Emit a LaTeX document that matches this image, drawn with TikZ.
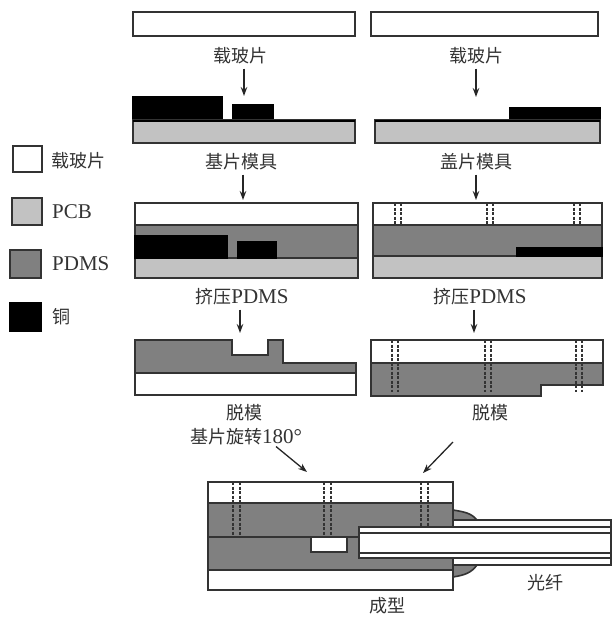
\documentclass[tikz,border=0pt]{standalone}
\usepackage{fontspec}
\setmainfont{Liberation Serif}
\newfontfamily\cjk{Noto Sans CJK SC}
\newcommand\zh[1]{{\cjk\fontsize{18}{20}\selectfont #1}}
\usetikzlibrary{arrows.meta,positioning}
\definecolor{edgegray}{HTML}{333333}
\definecolor{pcbgray}{HTML}{C2C2C2}
\definecolor{pdmsgray}{HTML}{808080}

\begin{document}
\begin{tikzpicture}[
    x=1pt,y=-1pt,
    node distance=0pt,
    lay/.style={rectangle,draw=edgegray,line width=1.6pt,inner sep=0pt,outer sep=0pt,anchor=north west},
    glass/.style={lay,fill=white},
    pcb/.style={lay,fill=pcbgray},
    pdms/.style={lay,fill=pdmsgray},
    copper/.style={lay,draw=black,fill=black},
    lab/.style={text=edgegray,font=\fontsize{21}{24}\selectfont,inner sep=1pt},
    arr/.style={-{Stealth[length=9pt,width=6.5pt]},line width=1.3pt,black!85},
    via/.style={edgegray,line width=1.5pt,dash pattern=on 3pt off 1.5pt},
    fibre/.style={draw=edgegray,line width=1.6pt}
  ]
    \useasboundingbox (0,0) rectangle (612,619);

    \node[glass,minimum width=29pt,minimum height=26pt] (k1) at (13,146) {};
    \node[pcb,minimum width=30pt,minimum height=27pt] (k2) at (12,198) {};
    \node[pdms,minimum width=31pt,minimum height=28pt] (k3) at (10,250) {};
    \node[copper,minimum width=31pt,minimum height=28pt] (k4) at (10,303) {};
    \node[lab,anchor=west] at (50,161) {\zh{载玻片}};
    \node[lab,anchor=west] at (51,212) {PCB};
    \node[lab,anchor=west] at (51,264) {PDMS};
    \node[lab,anchor=west] at (51,317) {\zh{铜}};

    \node[glass,minimum width=222pt,minimum height=24pt] (a1) at (133,12) {};
    \node[glass,minimum width=227pt,minimum height=24pt] (a2) at (371,12) {};
    \node[lab] (la1) at (240,56) {\zh{载玻片}};
    \node[lab] (la2) at (476,56) {\zh{载玻片}};

    \node[copper,minimum width=89pt,minimum height=23pt] (b1) at (133,97) {};
    \node[copper,minimum width=40pt,minimum height=15pt] (b2) at (233,105) {};
    \node[pcb,minimum width=222pt,minimum height=23pt] (b3) at (133,120) {};
    \draw[black,line width=2.5pt] ([yshift=-1pt]b3.north west) -- ([yshift=-1pt]b3.north east);
    \node[copper,minimum width=90pt,minimum height=12pt] (b4) at (510,108) {};
    \node[pcb,minimum width=225pt,minimum height=23pt] (b5) at (375,120) {};
    \draw[black,line width=2.5pt] ([yshift=-1pt]b5.north west) -- ([yshift=-1pt]b5.north east);
    \node[lab] (lb1) at (241,162) {\zh{基片模具}};
    \node[lab] (lb2) at (476,162) {\zh{盖片模具}};

    \node[glass,minimum width=223pt,minimum height=22pt] (c1) at (135,203) {};
    \node[pdms,minimum width=223pt,minimum height=33pt,below=of c1.south west,anchor=north west] (c2) {};
    \node[pcb,minimum width=223pt,minimum height=20pt,below=of c2.south west,anchor=north west] (c3) {};
    \node[copper,minimum width=92pt,minimum height=22pt] (c4) at (135,236) {};
    \node[copper,minimum width=38pt,minimum height=16pt] (c5) at (238,242) {};
    \node[lab] (lc1) at (242,297) {\zh{挤压}PDMS};

    \node[glass,minimum width=229pt,minimum height=22pt] (d1) at (373,203) {};
    \node[pdms,minimum width=229pt,minimum height=31pt,below=of d1.south west,anchor=north west] (d2) {};
    \node[pcb,minimum width=229pt,minimum height=22pt,below=of d2.south west,anchor=north west] (d3) {};
    \node[copper,minimum width=85pt,minimum height=8pt] (d4) at (517,248) {};
    \foreach \x in {398,490,577} {
      \draw[via] (\x-3,203) -- (\x-3,225);
      \draw[via] (\x+3,203) -- (\x+3,225);
    }
    \node[lab] (ld1) at (480,297) {\zh{挤压}PDMS};

    \draw[lay,fill=pdmsgray] (135,340) -- (232,340) -- (232,355) -- (268,355) -- (268,340)
      -- (283,340) -- (283,363) -- (356,363) -- (356,373) -- (135,373) -- cycle;
    \node[glass,minimum width=221pt,minimum height=22pt] (e1) at (135,373) {};
    \node[lab] (le1) at (244,413) {\zh{脱模}};
    \node[lab] (le2) at (246,437) {\zh{基片旋转}180°};

    \node[glass,minimum width=232pt,minimum height=23pt] (f1) at (371,340) {};
    \draw[lay,fill=pdmsgray] (371,363) -- (603,363) -- (603,385) -- (541,385) -- (541,396)
      -- (371,396) -- cycle;
    \foreach \x in {395,488,579} {
      \draw[via] (\x-3,340) -- (\x-3,392);
      \draw[via] (\x+3,340) -- (\x+3,392);
    }
    \node[lab] (lf1) at (490,413) {\zh{脱模}};

    \draw[fibre,fill=pdmsgray] (453,510) .. controls (465,512) and (471,513) .. (477,520) -- (453,520) -- cycle;
    \draw[fibre,fill=pdmsgray] (453,577) .. controls (465,575) and (471,573) .. (477,565) -- (453,565) -- cycle;
    \node[glass,minimum width=245pt,minimum height=21pt] (g1) at (208,482) {};
    \node[pdms,minimum width=245pt,minimum height=67pt,below=of g1.south west,anchor=north west] (g2) {};
    \node[glass,minimum width=245pt,minimum height=20pt,below=of g2.south west,anchor=north west] (g3) {};
    \draw[fibre] (g2.west |- 0,537) -- (359,537);
    \node[glass,minimum width=36pt,minimum height=15pt] (g4) at (311,537) {};
    \foreach \x in {237,328,425} {
      \draw[via] (\x-4,482) -- (\x-4,536);
      \draw[via] (\x+3,482) -- (\x+3,536);
    }
    \node[glass,minimum width=158pt,minimum height=45pt] (h1) at (453,520) {};
    \node[glass,minimum width=252pt,minimum height=31pt,line width=1.8pt] (h2) at (359,527) {};
    \draw[fibre] (h2.west |- 0,533) -- (h2.east |- 0,533);
    \draw[fibre] (h2.west |- 0,553) -- (h2.east |- 0,553);
    \node[lab] (lh1) at (545,583) {\zh{光纤}};
    \node[lab] (lh2) at (387,606) {\zh{成型}};

    \draw[arr,shorten <=3pt,shorten >=9pt] ([xshift=4pt]la1.south) -- ([xshift=4pt]la1.south |- b2.north);
    \draw[arr,shorten <=3pt,shorten >=11pt] (la2.south) -- (la2.south |- b4.north);
    \draw[arr,shorten <=3pt,shorten >=3pt] ([xshift=2pt]lb1.south) -- ([xshift=2pt]lb1.south |- c1.north);
    \draw[arr,shorten <=3pt,shorten >=3pt] (lb2.south) -- (lb2.south |- d1.north);
    \draw[arr,shorten <=3pt,shorten >=7pt] ([xshift=-2pt]lc1.south) -- ([xshift=-2pt]lc1.south |- f1.north);
    \draw[arr,shorten <=3pt,shorten >=7pt] ([xshift=-6pt]ld1.south) -- ([xshift=-6pt]ld1.south |- f1.north);
    \coordinate (q1) at (307,472);
    \coordinate (q2) at (453,442);
    \coordinate (q3) at (423,473);
    \draw[arr] ([xshift=30pt]le2.south) -- (q1);
    \draw[arr] (q2) -- (q3);
  \end{tikzpicture}
\end{document}
